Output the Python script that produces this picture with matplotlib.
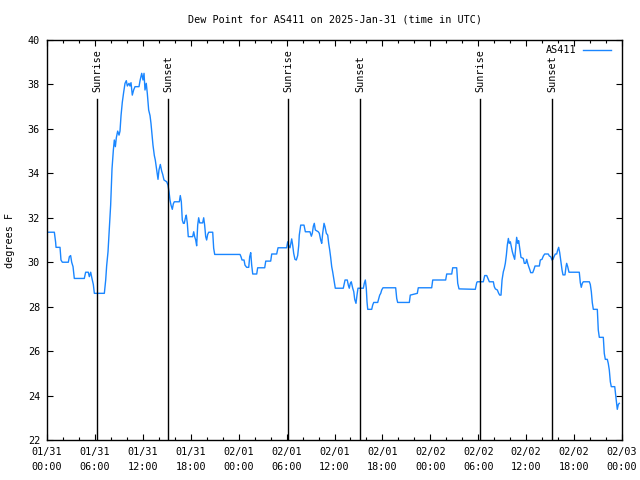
import matplotlib
matplotlib.use("Agg")
import matplotlib.pyplot as plt
from matplotlib.ticker import MultipleLocator

# ---- data: hours since 2025-01-31 00:00 UTC, dew point (F) ----
hours = [
    0.08, 0.92, 1.08, 1.13, 1.63, 1.75, 1.92, 2.67, 2.80, 2.96, 3.09, 3.26, 3.42, 4.67, 4.84, 5.17,
    5.30, 5.47, 5.63, 5.80, 5.93, 7.18, 7.35, 7.47, 7.64, 7.80, 7.97, 8.14, 8.31, 8.43, 8.56, 8.68,
    8.85, 9.02, 9.14, 9.27, 9.43, 9.60, 9.77, 9.93, 10.06, 10.27, 10.39, 10.52, 10.68, 10.85, 11.02,
    11.52, 11.65, 11.86, 12.02, 12.15, 12.27, 12.43, 12.56, 12.73, 12.90, 13.02, 13.15, 13.27, 13.44,
    13.56, 13.74, 13.90, 14.02, 14.19, 14.36, 14.49, 14.65, 14.99, 15.15, 15.28, 15.40, 15.53, 15.69,
    15.82, 15.94, 16.57, 16.69, 16.82, 16.94, 17.07, 17.19, 17.32, 17.44, 17.57, 17.69, 18.24, 18.37,
    18.49, 18.62, 18.74, 18.87, 18.99, 19.12, 19.49, 19.62, 19.74, 19.87, 19.99, 20.12, 20.25, 20.75,
    20.87, 21.00, 24.17, 24.29, 24.42, 24.67, 24.79, 25.00, 25.26, 25.38, 25.51, 25.63, 25.76, 26.26,
    26.38, 27.26, 27.39, 28.01, 28.14, 28.76, 28.93, 30.01, 30.14, 30.26, 30.43, 30.64, 30.77, 30.89,
    31.05, 31.22, 31.39, 31.52, 31.59, 31.77, 32.18, 32.35, 32.93, 33.10, 33.22, 33.35, 33.47, 33.60,
    33.97, 34.10, 34.27, 34.40, 34.52, 34.69, 34.81, 34.98, 35.15, 35.27, 35.40, 35.52, 35.65, 35.77,
    35.94, 36.10, 37.10, 37.32, 37.60, 37.73, 37.85, 37.98, 38.10, 38.28, 38.41, 38.53, 38.69, 38.82,
    38.94, 39.61, 39.73, 39.86, 39.98, 40.07, 40.16, 40.66, 40.78, 40.91, 41.41, 41.54, 41.66, 41.79,
    41.91, 42.07, 43.66, 43.79, 43.91, 45.37, 45.49, 46.37, 46.49, 48.17, 48.30, 49.92, 50.05, 50.68,
    50.80, 51.30, 51.43, 51.59, 53.63, 53.81, 53.88, 54.63, 54.81, 55.06, 55.22, 55.39, 55.89, 56.01,
    56.14, 56.39, 56.56, 56.69, 56.85, 56.98, 57.14, 57.26, 57.39, 57.52, 57.64, 57.77, 57.89, 58.02,
    58.14, 58.27, 58.39, 58.56, 58.69, 58.81, 58.94, 59.06, 59.23, 59.35, 59.64, 59.77, 59.94, 60.07,
    60.19, 60.32, 60.44, 60.57, 60.82, 60.98, 61.11, 61.65, 61.77, 61.98, 62.15, 62.32, 62.77, 62.90,
    63.07, 63.24, 63.36, 63.49, 63.65, 63.82, 63.95, 64.07, 64.20, 64.36, 64.49, 64.61, 64.86, 64.99,
    65.07, 65.20, 65.36, 66.65, 66.78, 66.90, 67.03, 67.15, 67.91, 68.03, 68.16, 68.28, 68.41, 68.91,
    69.03, 69.16, 69.66, 69.78, 69.91, 70.16, 70.28, 70.41, 70.54, 70.66, 71.09, 71.21, 71.34, 71.41,
    71.54, 71.66,
]
dew_point = [
    31.35, 31.35, 30.90, 30.67, 30.67, 30.10, 30.00, 30.00, 30.25, 30.30, 30.00, 29.80, 29.27, 29.27, 29.55, 29.55,
    29.35, 29.55, 29.27, 29.00, 28.60, 28.60, 29.20, 29.84, 30.47, 31.50, 32.57, 34.20, 35.05, 35.50, 35.20, 35.60,
    35.90, 35.72, 35.90, 36.60, 37.20, 37.65, 38.05, 38.17, 37.93, 38.05, 37.93, 38.08, 37.52, 37.75, 37.90,
    37.90, 38.17, 38.50, 38.20, 38.50, 37.75, 38.05, 37.60, 36.85, 36.60, 36.25, 35.72, 35.27, 34.80,
    34.60, 34.15, 33.73, 34.15, 34.40, 34.10, 33.95, 33.70, 33.62, 33.47, 33.17, 32.80, 32.57, 32.38,
    32.63, 32.72, 32.72, 33.00, 32.72, 31.90, 31.75, 31.75, 31.98, 32.12, 31.75, 31.15, 31.15, 31.37,
    31.15, 31.00, 30.74, 31.67, 32.00, 31.77, 31.77, 32.00, 31.67, 31.15, 31.00, 31.25, 31.35, 31.35,
    30.63, 30.35, 30.35, 30.25, 30.10, 30.10, 29.87, 29.77, 29.77, 30.25, 30.43, 29.87, 29.47, 29.47,
    29.75, 29.75, 30.05, 30.05, 30.37, 30.37, 30.65, 30.65, 30.92, 30.75, 30.65, 31.05, 30.75, 30.40,
    30.13, 30.10, 30.30, 30.75, 31.22, 31.67, 31.67, 31.37, 31.37, 31.17, 31.30, 31.62, 31.75, 31.45,
    31.37, 31.30, 31.00, 30.85, 31.30, 31.75, 31.60, 31.30, 31.22, 30.85, 30.55, 30.22, 29.80, 29.57,
    29.20, 28.83, 28.83, 29.20, 29.20, 28.97, 28.83, 29.05, 29.12, 28.83, 28.68, 28.33, 28.15, 28.53,
    28.83, 28.83, 29.05, 29.20, 28.83, 28.22, 27.88, 27.88, 28.07, 28.19, 28.19, 28.37, 28.52, 28.60,
    28.75, 28.85, 28.85, 28.37, 28.19, 28.19, 28.52, 28.60, 28.85, 28.85, 29.20, 29.20, 29.47, 29.47,
    29.75, 29.75, 29.05, 28.80, 28.78, 29.08, 29.12, 29.12, 29.40, 29.40, 29.27, 29.12, 29.12, 28.90,
    28.80, 28.75, 28.60, 28.52, 28.52, 29.20, 29.57, 29.72, 29.95, 30.32, 30.77, 31.07, 30.85, 30.92,
    30.70, 30.47, 30.32, 30.13, 30.62, 31.12, 30.85, 30.97, 30.55, 30.22, 30.17, 29.95, 29.95, 30.13,
    29.95, 29.80, 29.68, 29.53, 29.53, 29.68, 29.83, 29.83, 30.10, 30.13, 30.28, 30.37, 30.37, 30.28,
    30.25, 30.10, 30.13, 30.25, 30.37, 30.37, 30.55, 30.67, 30.43, 30.00, 29.65, 29.43, 29.43, 29.80,
    29.95, 29.80, 29.55, 29.55, 29.08, 28.87, 29.05, 29.12, 29.12, 29.00, 28.67, 28.18, 27.88, 27.88,
    26.95, 26.62, 26.62, 25.90, 25.63, 25.63, 25.45, 25.15, 24.62, 24.40, 24.40, 24.02, 23.65, 23.38,
    23.60, 23.65,
]

sun_events = ["Sunrise", "Sunset", "Sunrise", "Sunset", "Sunrise", "Sunset"]
sun_hours = [6.28, 15.19, 30.22, 39.24, 54.26, 63.27]

xtick_hours = [0, 6, 12, 18, 24, 30, 36, 42, 48, 54, 60, 66, 72]
xtick_labels = ["01/31\n00:00", "01/31\n06:00", "01/31\n12:00", "01/31\n18:00",
                "02/01\n00:00", "02/01\n06:00", "02/01\n12:00", "02/01\n18:00",
                "02/02\n00:00", "02/02\n06:00", "02/02\n12:00", "02/02\n18:00",
                "02/03\n00:00"]
series_name = "AS411"
title = "Dew Point for AS411 on 2025-Jan-31 (time in UTC)"
ylabel = "degrees F"

FONT = "DejaVu Sans Mono"
FS = 7.3
plt.rcParams["font.family"] = [FONT]
plt.rcParams["font.size"] = FS

fig = plt.figure(figsize=(6.4, 4.8), dpi=100)
ax = fig.add_axes([47 / 640, 40 / 480, 575 / 640, 400 / 480])

line_color = "#1a86ff"
ax.plot(hours, dew_point, color=line_color, lw=1.0, label=series_name)

for name, h in zip(sun_events, sun_hours):
    ax.axvline(h, ymin=0, ymax=0.8525, color="black", lw=1.0)
    ax.text(h, 0.87, name, transform=ax.get_xaxis_transform(), rotation=90,
            ha="center", va="bottom", fontsize=FS)

ax.set_xlim(0, 72)
ax.set_ylim(22, 40)
ax.set_xticks(xtick_hours)
ax.set_xticklabels(xtick_labels)
for lab in ax.get_xticklabels():
    lab.set_linespacing(1.6)
ax.xaxis.set_minor_locator(MultipleLocator(2))
ax.yaxis.set_major_locator(MultipleLocator(2))
ax.tick_params(axis="both", which="major", direction="in", length=4, width=0.8,
               top=True, right=True, pad=5, labelsize=FS)
ax.tick_params(axis="x", which="minor", direction="in", length=2.2, width=0.8,
               top=True, bottom=True)
for s in ax.spines.values():
    s.set_linewidth(1.0)

leg = ax.legend(loc="upper right", frameon=False, markerfirst=False,
                handlelength=2.8, handletextpad=0.6, borderaxespad=0.3,
                bbox_to_anchor=(1 - 4 / 575, 1 + 2 / 400), fontsize=FS)

fig.text(334.5 / 640, 1 - 20 / 480, title, ha="center", va="center", fontsize=FS)
fig.text(10 / 640, 0.5, ylabel, rotation=90, ha="center", va="center", fontsize=FS)

fig.savefig("out.png", dpi=100)
